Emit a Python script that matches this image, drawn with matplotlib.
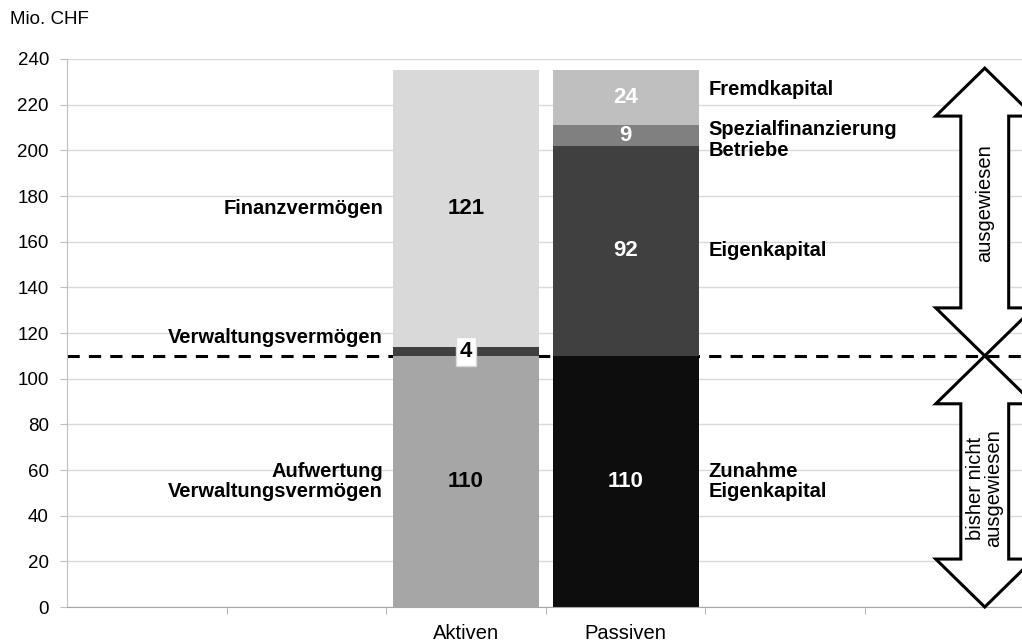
import matplotlib.pyplot as plt
from matplotlib.patches import Polygon

plt.rcParams['font.family'] = ['Liberation Sans', 'DejaVu Sans']

categories = ['', '', 'Aktiven', 'Passiven', '', '']

# stacked segments, bottom to top
aktiven_values = [110, 4, 121]
aktiven_colors = ['#a6a6a6', '#404040', '#d9d9d9']
aktiven_names = ['Aufwertung\nVerwaltungsvermögen', 'Verwaltungsvermögen', 'Finanzvermögen']

passiven_values = [110, 92, 9, 24]
passiven_colors = ['#0d0d0d', '#404040', '#808080', '#bfbfbf']
passiven_names = ['Zunahme\nEigenkapital', 'Eigenkapital', 'Spezialfinanzierung\nBetriebe', 'Fremdkapital']

threshold = 110

LABEL_FS = 14.5
VALUE_FS = 16

fig = plt.figure(figsize=(10.22, 6.42), dpi=100)
ax = fig.add_axes([0.0656, 0.0545, 0.937, 0.8536])

xs = range(len(categories))
ax.set_xlim(-0.5, len(categories) - 0.5)
ax.set_ylim(0, 240)
ax.set_yticks(range(0, 241, 20))
ax.yaxis.grid(True, color='#d9d9d9', linewidth=1)
ax.set_axisbelow(True)
for s in ['top', 'right']:
    ax.spines[s].set_visible(False)
ax.spines['left'].set_color('#bfbfbf')
ax.spines['bottom'].set_color('#a6a6a6')
ax.tick_params(axis='y', colors='#bfbfbf', labelcolor='black', labelsize=13.5, length=5, pad=8)
ax.set_xticks(list(xs))
ax.set_xticklabels(categories, fontsize=LABEL_FS)
ax.tick_params(axis='x', which='major', length=0, pad=12)
ax.set_xticks([i + 0.5 for i in range(len(categories) - 1)], minor=True)
ax.tick_params(axis='x', which='minor', length=5, color='#a6a6a6')

ax.axhline(threshold, color='black', linestyle=(0, (4, 3)), linewidth=2.2, zorder=1)

width = 0.915
xa, xp = 2, 3

bottom = 0
for v, c, name in zip(aktiven_values, aktiven_colors, aktiven_names):
    ax.bar(xa, v, width=width, bottom=bottom, color=c, zorder=2)
    mid = bottom + v / 2
    if v < 10:
        ax.text(xa, mid, str(v), ha='center', va='center', fontsize=VALUE_FS, fontweight='bold',
                zorder=4, bbox=dict(facecolor='white', edgecolor='#d9d9d9', pad=3))
        ax.text(xa - 0.52, 118, name, ha='right', va='center', fontsize=LABEL_FS, fontweight='bold')
    else:
        ax.text(xa, mid, str(v), ha='center', va='center', fontsize=VALUE_FS, fontweight='bold', zorder=4)
        ax.text(xa - 0.52, mid, name, ha='right', va='center', fontsize=LABEL_FS, fontweight='bold',
                linespacing=1.1)
    bottom += v

bottom = 0
for v, c, name in zip(passiven_values, passiven_colors, passiven_names):
    ax.bar(xp, v, width=width, bottom=bottom, color=c, zorder=2)
    mid = bottom + v / 2
    ax.text(xp, mid, str(v), ha='center', va='center', fontsize=VALUE_FS, fontweight='bold',
            color='white', zorder=4)
    ty = mid
    if name.startswith('Spezial'):
        ty = 204.5
    elif name == 'Fremdkapital':
        ty = 226.5
    ax.text(xp + 0.52, ty, name, ha='left', va='center', fontsize=LABEL_FS, fontweight='bold',
            linespacing=1.1)
    bottom += v


def double_arrow(xc, y0, y1, head=21, shaft=0.15, head_w=0.307):
    pts = [(xc, y1), (xc - head_w, y1 - head), (xc - shaft, y1 - head),
           (xc - shaft, y0 + head), (xc - head_w, y0 + head), (xc, y0),
           (xc + head_w, y0 + head), (xc + shaft, y0 + head),
           (xc + shaft, y1 - head), (xc + head_w, y1 - head)]
    ax.add_patch(Polygon(pts, closed=True, facecolor='white', edgecolor='black',
                         linewidth=2.2, zorder=3, clip_on=False))


arrow_x = 5.25
double_arrow(arrow_x, threshold, 236)
double_arrow(arrow_x, 0, threshold)
ax.text(arrow_x, 177, 'ausgewiesen', rotation=90, ha='center', va='center', fontsize=LABEL_FS, zorder=4)
ax.text(arrow_x, 52, 'bisher nicht\nausgewiesen', rotation=90, ha='center', va='center',
        fontsize=LABEL_FS, zorder=4, linespacing=0.95)

fig.text(10 / 1022, 1 - 20 / 642, 'Mio. CHF', ha='left', va='center', fontsize=13.5)

fig.savefig('out.png', dpi=100)
